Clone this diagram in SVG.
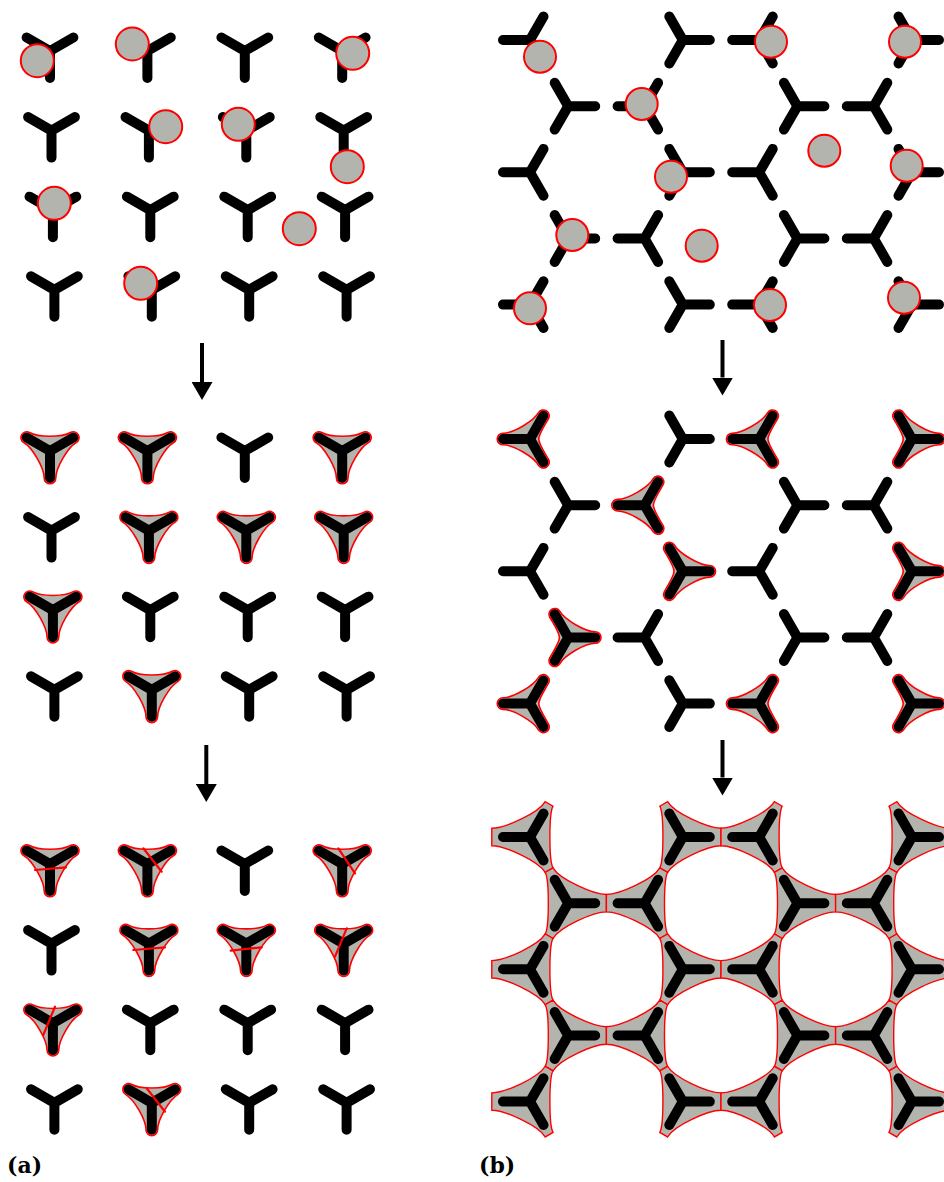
<svg xmlns="http://www.w3.org/2000/svg" width="944" height="1182" viewBox="0 0 944 1182">
<defs>
<style>
.dot{fill:#b4b4af;stroke:#f00;stroke-width:2}
.cut{stroke:#f00;stroke-width:2.2;stroke-linecap:round}
.lbl{font-family:"DejaVu Serif","Liberation Serif",serif;font-weight:bold;font-size:22px;fill:#000}
.arrow{stroke:#000;stroke-width:4;fill:none}
</style>
<path id="Y" d="M0 27L0 0M-23.38 -13.5L0 0L23.38 -13.5" fill="none" stroke="#000" stroke-width="10" stroke-linecap="round" stroke-linejoin="round"/>
<path id="c1" d="M-5.8 27A5.8 5.8 0 0 0 5.8 27C5.8 17 17.62 -3.48 26.28 -8.48A5.8 5.8 0 0 0 20.48 -18.52C11.82 -13.52 -11.82 -13.52 -20.48 -18.52A5.8 5.8 0 0 0 -26.28 -8.48C-17.62 -3.48 -5.8 17 -5.8 27Z"/>
<path id="c2" d="M-5.8 27A5.8 5.8 0 0 0 5.8 27C5.8 17 17.62 -3.48 26.28 -8.48A5.8 5.8 0 0 0 20.48 -18.52C-2.04 -5.52 2.04 -5.52 -20.48 -18.52A5.8 5.8 0 0 0 -26.28 -8.48C-17.62 -3.48 -5.8 17 -5.8 27Z"/>
<path id="n" d="M8.7 38.2C8.7 25.1 23.98 -8.65 35.33 -15.2L30.83 -23C23.64 -18.85 -23.64 -18.85 -30.83 -23L-35.33 -15.2C-23.98 -8.65 -8.7 25.1 -8.7 38.2Z"/>
<g id="YC1"><use href="#c1" fill="#b4b4af"/><use href="#Y"/><use href="#c1" fill="none" stroke="#f00" stroke-width="1.6"/></g>
<g id="YC2"><use href="#c2" fill="#b4b4af"/><use href="#Y"/><use href="#c2" fill="none" stroke="#f00" stroke-width="1.6"/></g>
<g id="YN"><use href="#n" fill="#b4b4af" stroke="#f00" stroke-width="1.4"/><use href="#Y"/></g>
<marker id="ah" markerUnits="userSpaceOnUse" markerWidth="18" markerHeight="21" refX="0" refY="10.5" orient="auto" viewBox="0 0 18 21"><path d="M0 0L18 10.5L0 21Z" fill="#000"/></marker>
</defs>
<rect width="944" height="1182" fill="#fff"/>

<g id="panel-a-top">
<use href="#Y" transform="translate(50 51)"/>
<use href="#Y" transform="translate(147.4 51)"/>
<use href="#Y" transform="translate(244.8 51)"/>
<use href="#Y" transform="translate(342.2 51)"/>
<use href="#Y" transform="translate(51.5 130.6)"/>
<use href="#Y" transform="translate(148.9 130.6)"/>
<use href="#Y" transform="translate(246.3 130.6)"/>
<use href="#Y" transform="translate(343.7 130.6)"/>
<use href="#Y" transform="translate(52.9 210.2)"/>
<use href="#Y" transform="translate(150.3 210.2)"/>
<use href="#Y" transform="translate(247.7 210.2)"/>
<use href="#Y" transform="translate(345.1 210.2)"/>
<use href="#Y" transform="translate(54.4 289.8)"/>
<use href="#Y" transform="translate(151.8 289.8)"/>
<use href="#Y" transform="translate(249.2 289.8)"/>
<use href="#Y" transform="translate(346.6 289.8)"/>
<circle class="dot" cx="37.3" cy="60.7" r="16.5"/>
<circle class="dot" cx="132.3" cy="44" r="16.5"/>
<circle class="dot" cx="352.7" cy="53.3" r="16.5"/>
<circle class="dot" cx="165.7" cy="126.7" r="16.5"/>
<circle class="dot" cx="238.3" cy="124.3" r="16.5"/>
<circle class="dot" cx="347.3" cy="166.7" r="16.5"/>
<circle class="dot" cx="54.3" cy="203.3" r="16.5"/>
<circle class="dot" cx="299.3" cy="228.7" r="16.5"/>
<circle class="dot" cx="140.7" cy="283.3" r="16.5"/>
</g>

<g id="panel-a-middle">
<use href="#YC1" transform="translate(50 451)"/>
<use href="#YC1" transform="translate(147.4 451)"/>
<use href="#Y" transform="translate(244.8 451)"/>
<use href="#YC1" transform="translate(342.2 451)"/>
<use href="#Y" transform="translate(51.5 530.6)"/>
<use href="#YC1" transform="translate(148.9 530.6)"/>
<use href="#YC1" transform="translate(246.3 530.6)"/>
<use href="#YC1" transform="translate(343.7 530.6)"/>
<use href="#YC1" transform="translate(52.9 610.2)"/>
<use href="#Y" transform="translate(150.3 610.2)"/>
<use href="#Y" transform="translate(247.7 610.2)"/>
<use href="#Y" transform="translate(345.1 610.2)"/>
<use href="#Y" transform="translate(54.4 689.8)"/>
<use href="#YC1" transform="translate(151.8 689.8)"/>
<use href="#Y" transform="translate(249.2 689.8)"/>
<use href="#Y" transform="translate(346.6 689.8)"/>
</g>

<g id="panel-a-bottom">
<use href="#YC1" transform="translate(50 864)"/>
<use href="#YC1" transform="translate(147.4 864)"/>
<use href="#Y" transform="translate(244.8 864)"/>
<use href="#YC1" transform="translate(342.2 864)"/>
<use href="#Y" transform="translate(51.5 943.6)"/>
<use href="#YC1" transform="translate(148.9 943.6)"/>
<use href="#YC1" transform="translate(246.3 943.6)"/>
<use href="#YC1" transform="translate(343.7 943.6)"/>
<use href="#YC1" transform="translate(52.9 1023.2)"/>
<use href="#Y" transform="translate(150.3 1023.2)"/>
<use href="#Y" transform="translate(247.7 1023.2)"/>
<use href="#Y" transform="translate(345.1 1023.2)"/>
<use href="#Y" transform="translate(54.4 1102.8)"/>
<use href="#YC1" transform="translate(151.8 1102.8)"/>
<use href="#Y" transform="translate(249.2 1102.8)"/>
<use href="#Y" transform="translate(346.6 1102.8)"/>
<line class="cut" x1="35" y1="870" x2="66" y2="867.3"/>
<line class="cut" x1="143.3" y1="848.3" x2="161.7" y2="871.7"/>
<line class="cut" x1="338.3" y1="848.3" x2="355" y2="873.3"/>
<line class="cut" x1="133.3" y1="950" x2="165" y2="947.3"/>
<line class="cut" x1="230.7" y1="950.7" x2="261.7" y2="947.3"/>
<line class="cut" x1="346.7" y1="928.3" x2="335" y2="956.7"/>
<line class="cut" x1="55" y1="1006.7" x2="43.3" y2="1035"/>
<line class="cut" x1="146.7" y1="1088.3" x2="165" y2="1111.7"/>
</g>

<g id="panel-b-top">
<use href="#Y" transform="translate(530 40) rotate(90)"/>
<use href="#Y" transform="translate(682.8 40) rotate(-90)"/>
<use href="#Y" transform="translate(759.2 40) rotate(90)"/>
<use href="#Y" transform="translate(912 40) rotate(-90)"/>
<use href="#Y" transform="translate(568.2 106.2) rotate(-90)"/>
<use href="#Y" transform="translate(644.6 106.2) rotate(90)"/>
<use href="#Y" transform="translate(797.4 106.2) rotate(-90)"/>
<use href="#Y" transform="translate(873.8 106.2) rotate(90)"/>
<use href="#Y" transform="translate(530 172.3) rotate(90)"/>
<use href="#Y" transform="translate(682.8 172.3) rotate(-90)"/>
<use href="#Y" transform="translate(759.2 172.3) rotate(90)"/>
<use href="#Y" transform="translate(912 172.3) rotate(-90)"/>
<use href="#Y" transform="translate(568.2 238.5) rotate(-90)"/>
<use href="#Y" transform="translate(644.6 238.5) rotate(90)"/>
<use href="#Y" transform="translate(797.4 238.5) rotate(-90)"/>
<use href="#Y" transform="translate(873.8 238.5) rotate(90)"/>
<use href="#Y" transform="translate(530 304.6) rotate(90)"/>
<use href="#Y" transform="translate(682.8 304.6) rotate(-90)"/>
<use href="#Y" transform="translate(759.2 304.6) rotate(90)"/>
<use href="#Y" transform="translate(912 304.6) rotate(-90)"/>
<circle class="dot" cx="540" cy="56.7" r="16"/>
<circle class="dot" cx="641.7" cy="104" r="16"/>
<circle class="dot" cx="771" cy="41.7" r="16"/>
<circle class="dot" cx="905" cy="41.7" r="16"/>
<circle class="dot" cx="824.3" cy="150.7" r="16"/>
<circle class="dot" cx="671" cy="176.7" r="16"/>
<circle class="dot" cx="906.7" cy="165.7" r="16"/>
<circle class="dot" cx="572.3" cy="235" r="16"/>
<circle class="dot" cx="701.7" cy="245.7" r="16"/>
<circle class="dot" cx="530" cy="308.3" r="16"/>
<circle class="dot" cx="770" cy="305" r="16"/>
<circle class="dot" cx="904" cy="297.7" r="16"/>
</g>

<g id="panel-b-middle">
<use href="#YC2" transform="translate(530 439) rotate(90)"/>
<use href="#Y" transform="translate(682.8 439) rotate(-90)"/>
<use href="#YC2" transform="translate(759.2 439) rotate(90)"/>
<use href="#YC2" transform="translate(912 439) rotate(-90)"/>
<use href="#Y" transform="translate(568.2 505.2) rotate(-90)"/>
<use href="#YC2" transform="translate(644.6 505.2) rotate(90)"/>
<use href="#Y" transform="translate(797.4 505.2) rotate(-90)"/>
<use href="#Y" transform="translate(873.8 505.2) rotate(90)"/>
<use href="#Y" transform="translate(530 571.3) rotate(90)"/>
<use href="#YC2" transform="translate(682.8 571.3) rotate(-90)"/>
<use href="#Y" transform="translate(759.2 571.3) rotate(90)"/>
<use href="#YC2" transform="translate(912 571.3) rotate(-90)"/>
<use href="#YC2" transform="translate(568.2 637.5) rotate(-90)"/>
<use href="#Y" transform="translate(644.6 637.5) rotate(90)"/>
<use href="#Y" transform="translate(797.4 637.5) rotate(-90)"/>
<use href="#Y" transform="translate(873.8 637.5) rotate(90)"/>
<use href="#YC2" transform="translate(530 703.6) rotate(90)"/>
<use href="#Y" transform="translate(682.8 703.6) rotate(-90)"/>
<use href="#YC2" transform="translate(759.2 703.6) rotate(90)"/>
<use href="#YC2" transform="translate(912 703.6) rotate(-90)"/>
</g>

<g id="panel-b-bottom">
<use href="#YN" transform="translate(530 837) rotate(90)"/>
<use href="#YN" transform="translate(682.8 837) rotate(-90)"/>
<use href="#YN" transform="translate(759.2 837) rotate(90)"/>
<use href="#YN" transform="translate(912 837) rotate(-90)"/>
<use href="#YN" transform="translate(568.2 903.2) rotate(-90)"/>
<use href="#YN" transform="translate(644.6 903.2) rotate(90)"/>
<use href="#YN" transform="translate(797.4 903.2) rotate(-90)"/>
<use href="#YN" transform="translate(873.8 903.2) rotate(90)"/>
<use href="#YN" transform="translate(530 969.3) rotate(90)"/>
<use href="#YN" transform="translate(682.8 969.3) rotate(-90)"/>
<use href="#YN" transform="translate(759.2 969.3) rotate(90)"/>
<use href="#YN" transform="translate(912 969.3) rotate(-90)"/>
<use href="#YN" transform="translate(568.2 1035.5) rotate(-90)"/>
<use href="#YN" transform="translate(644.6 1035.5) rotate(90)"/>
<use href="#YN" transform="translate(797.4 1035.5) rotate(-90)"/>
<use href="#YN" transform="translate(873.8 1035.5) rotate(90)"/>
<use href="#YN" transform="translate(530 1101.6) rotate(90)"/>
<use href="#YN" transform="translate(682.8 1101.6) rotate(-90)"/>
<use href="#YN" transform="translate(759.2 1101.6) rotate(90)"/>
<use href="#YN" transform="translate(912 1101.6) rotate(-90)"/>
</g>

<g id="connectors">
<line class="arrow" x1="202" y1="343" x2="202" y2="382" marker-end="url(#ah)"/>
<line class="arrow" x1="206.3" y1="745" x2="206.3" y2="784" marker-end="url(#ah)"/>
<line class="arrow" x1="722.5" y1="340" x2="722.5" y2="377.5" marker-end="url(#ah)"/>
<line class="arrow" x1="722.5" y1="740" x2="722.5" y2="777.5" marker-end="url(#ah)"/>
</g>

<g id="labels">
<text class="lbl" x="7" y="1173">(a)</text>
<text class="lbl" x="479" y="1173">(b)</text>
</g>
</svg>
